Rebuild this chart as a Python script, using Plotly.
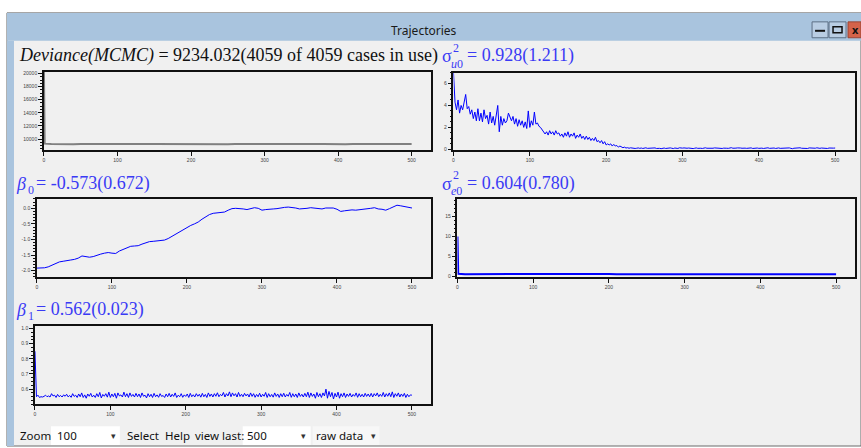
import plotly.graph_objects as go

W, H = 861, 448

# ---------------- data ----------------
dev_iter = [0, 1] + list(range(10, 501, 10))
dev_vals = [20300, 9300,
            9250, 9220, 9240, 9215, 9260, 9230, 9245, 9210, 9235, 9255,
            9225, 9240, 9205, 9250, 9230, 9220, 9262, 9238, 9215, 9245,
            9230, 9250, 9222, 9240, 9212, 9258, 9234, 9226, 9248, 9218,
            9236, 9252, 9228, 9242, 9210, 9246, 9232, 9256, 9224, 9238,
            9216, 9250, 9230, 9244, 9220, 9236, 9254, 9228, 9240, 9234]

su0_iter = list(range(0, 501, 2))
su0_vals = [7.0, 4.3, 3.6, 4.5, 3.3, 4.0, 3.6, 4.4, 5.0, 3.7,
            3.9, 3.2, 3.6, 2.8, 3.4, 2.6, 3.7, 2.6, 3.3, 2.5,
            3.6, 2.8, 3.1, 2.3, 3.4, 2.4, 3.0, 2.2, 3.2, 4.0,
            1.6, 3.0, 2.2, 2.8, 2.4, 2.6, 3.3, 2.9, 2.6, 3.0,
            2.3, 2.8, 2.1, 2.7, 2.2, 2.6, 2.0, 2.5, 1.9, 3.5,
            2.0, 2.6, 2.2, 3.4, 2.3, 2.4, 2.1, 2.0, 1.8, 1.7,
            1.4, 1.6, 1.3, 1.7, 1.4, 1.6, 1.3, 1.7, 1.4, 1.5,
            1.2, 1.4, 1.1, 1.5, 1.2, 1.6, 1.1, 1.4, 1.2, 1.5,
            1.0, 1.3, 1.1, 1.4, 1.0, 1.2, 0.9, 1.2, 0.9, 1.1,
            0.8, 1.0, 0.8, 1.1, 0.7, 0.8, 0.6, 0.8, 0.5, 0.7,
            0.4, 0.5, 0.4, 0.5, 0.3, 0.45, 0.3, 0.35, 0.2, 0.3,
            0.2, 0.15, 0.2, 0.12, 0.15, 0.1, 0.14, 0.1, 0.12, 0.08,
            0.10, 0.13, 0.09, 0.12, 0.08, 0.11, 0.14, 0.09, 0.10, 0.12,
            0.07, 0.10, 0.13, 0.08, 0.11, 0.09, 0.06, 0.10, 0.12, 0.08,
            0.11, 0.09, 0.13, 0.10, 0.07, 0.12, 0.10, 0.08, 0.14, 0.09,
            0.11, 0.13, 0.08, 0.10, 0.12, 0.09, 0.11, 0.07, 0.10, 0.13,
            0.09, 0.12, 0.10, 0.08, 0.11, 0.14, 0.10, 0.09, 0.12, 0.08,
            0.10, 0.13, 0.11, 0.09, 0.12, 0.10, 0.08, 0.11, 0.13, 0.10,
            0.09, 0.12, 0.15, 0.10, 0.08, 0.11, 0.13, 0.09, 0.12, 0.10,
            0.14, 0.11, 0.09, 0.12, 0.10, 0.13, 0.08, 0.11, 0.10, 0.12,
            0.09, 0.13, 0.11, 0.08, 0.12, 0.10, 0.14, 0.09, 0.11, 0.10,
            0.12, 0.08, 0.11, 0.13, 0.09, 0.10, 0.12, 0.07, 0.11, 0.10,
            0.13, 0.09, 0.06, 0.10, 0.12, 0.08, 0.11, 0.14, 0.10, 0.09,
            0.12, 0.10, 0.08, 0.13, 0.11, 0.09, 0.12, 0.10, 0.14, 0.11,
            0.09, 0.12, 0.10, 0.13, 0.11, 0.08, 0.12, 0.10, 0.13, 0.11,
            0.12]

b0_iter = list(range(0, 501, 5))
b0_vals = [-1.92, -1.92, -1.91, -1.88, -1.83, -1.78, -1.72, -1.70, -1.67, -1.66,
           -1.64, -1.60, -1.53, -1.54, -1.57, -1.55, -1.50, -1.47, -1.44, -1.42,
           -1.44, -1.45, -1.37, -1.32, -1.25, -1.22, -1.21, -1.20, -1.15, -1.10,
           -1.07, -1.06, -1.05, -1.04, -1.02, -0.97, -0.90, -0.82, -0.76, -0.68,
           -0.60, -0.55, -0.50, -0.44, -0.35, -0.27, -0.20, -0.16, -0.15, -0.13,
           -0.12, -0.06, -0.01, 0.00, 0.00, -0.02, -0.04, -0.01, 0.02, 0.00,
           -0.06, -0.04, -0.02, -0.02, -0.01, 0.02, 0.03, 0.04, 0.03, 0.01,
           -0.02, -0.02, 0.00, 0.02, 0.01, -0.01, -0.02, 0.01, 0.02, 0.01,
           -0.03, -0.10, -0.08, -0.06, -0.05, -0.06, -0.05, -0.04, -0.03, 0.00,
           0.02, -0.02, -0.03, -0.06, -0.01, 0.05, 0.10, 0.08, 0.06, 0.04,
           0.01]

se0_iter = [0, 1] + list(range(10, 501, 10))
se0_vals = [10.0, 0.7,
            0.60, 0.61, 0.59, 0.60, 0.62, 0.60, 0.59, 0.61, 0.60, 0.60,
            0.61, 0.59, 0.60, 0.62, 0.60, 0.61, 0.59, 0.60, 0.60, 0.61,
            0.60, 0.59, 0.61, 0.60, 0.62, 0.60, 0.59, 0.60, 0.61, 0.60,
            0.60, 0.61, 0.59, 0.60, 0.61, 0.60, 0.62, 0.60, 0.59, 0.60,
            0.61, 0.60, 0.60, 0.59, 0.61, 0.60, 0.60, 0.61, 0.60, 0.60]

b1_iter = list(range(0, 501, 2))
b1_vals = [0.85, 0.55, 0.56, 0.545, 0.55, 0.548, 0.552, 0.56, 0.55, 0.555,
           0.548, 0.57, 0.555, 0.56, 0.545, 0.565, 0.55, 0.558, 0.548, 0.562,
           0.553, 0.566, 0.549, 0.558, 0.546, 0.57, 0.552, 0.56, 0.545, 0.568,
           0.55, 0.575, 0.545, 0.562, 0.54, 0.568, 0.553, 0.572, 0.548, 0.56,
           0.545, 0.57, 0.55, 0.578, 0.542, 0.565, 0.553, 0.57, 0.547, 0.58,
           0.545, 0.568, 0.55, 0.572, 0.54, 0.575, 0.555, 0.562, 0.548, 0.58,
           0.55, 0.57, 0.545, 0.575, 0.552, 0.565, 0.548, 0.572, 0.55, 0.568,
           0.545, 0.575, 0.553, 0.56, 0.542, 0.57, 0.55, 0.566, 0.545, 0.572,
           0.55, 0.562, 0.546, 0.57, 0.552, 0.558, 0.545, 0.568, 0.55, 0.572,
           0.548, 0.566, 0.552, 0.575, 0.545, 0.56, 0.55, 0.57, 0.546, 0.562,
           0.552, 0.568, 0.545, 0.572, 0.55, 0.563, 0.548, 0.57, 0.553, 0.566,
           0.547, 0.572, 0.55, 0.565, 0.545, 0.575, 0.552, 0.568, 0.548, 0.57,
           0.553, 0.576, 0.55, 0.565, 0.556, 0.578, 0.548, 0.57, 0.555, 0.582,
           0.55, 0.575, 0.556, 0.57, 0.548, 0.578, 0.552, 0.566, 0.55, 0.572,
           0.555, 0.568, 0.548, 0.575, 0.552, 0.57, 0.546, 0.565, 0.55, 0.573,
           0.548, 0.566, 0.553, 0.578, 0.545, 0.57, 0.55, 0.565, 0.547, 0.575,
           0.552, 0.568, 0.545, 0.57, 0.55, 0.573, 0.548, 0.565, 0.553, 0.578,
           0.546, 0.57, 0.55, 0.568, 0.545, 0.575, 0.552, 0.566, 0.548, 0.572,
           0.55, 0.58, 0.545, 0.575, 0.552, 0.568, 0.54, 0.578, 0.55, 0.57,
           0.545, 0.575, 0.555, 0.60, 0.54, 0.585, 0.55, 0.578, 0.535, 0.572,
           0.548, 0.58, 0.54, 0.57, 0.55, 0.575, 0.545, 0.568, 0.552, 0.572,
           0.548, 0.565, 0.553, 0.575, 0.546, 0.57, 0.55, 0.566, 0.548, 0.572,
           0.552, 0.568, 0.55, 0.572, 0.548, 0.57, 0.555, 0.575, 0.55, 0.566,
           0.552, 0.578, 0.548, 0.57, 0.553, 0.575, 0.55, 0.582, 0.545, 0.57,
           0.553, 0.575, 0.548, 0.568, 0.552, 0.572, 0.545, 0.566, 0.55, 0.562,
           0.56]

x_ticks = [0, 100, 200, 300, 400, 500]
dev_yticks = [10000, 12000, 14000, 16000, 18000, 20000]
su0_yticks = [0, 2, 4, 6]
b0_yticks = [-2.0, -1.5, -1.0, -0.5, 0.0]
se0_yticks = [0, 5, 10, 15]
b1_yticks = [0.6, 0.7, 0.8, 0.9, 1.0]

window_title = "Trajectories"
dev_title = "<i>Deviance(MCMC)</i> = 9234.032(4059 of 4059 cases in use)"
su0_text = "= 0.928(1.211)"
b0_text = "= -0.573(0.672)"
se0_text = "= 0.604(0.780)"
b1_text = "= 0.562(0.023)"

# ---------------- helpers ----------------
def px(x):
    return x / W

def py(y):
    return 1 - y / H

BLUE_TXT = "#3a3af5"
SERIF = "Liberation Serif"

fig = go.Figure()

# panels: (series x, series y, colour, width, box[x0,x1,y0,y1], xrange, yrange, yticks, fmt, minor)
panels = [
    (dev_iter, dev_vals, "#808080", 2, (43, 431, 71, 150), [0, 527], [8330, 20300], dev_yticks, "d", 500),
    (su0_iter, su0_vals, "#0000ff", 1, (453, 855, 72, 150), [0, 526], [-0.06, 7.0], su0_yticks, "d", 0.5),
    (b0_iter, b0_vals, "#0000ff", 1, (36, 431, 199, 278), [0, 526], [-2.21, 0.31], b0_yticks, ".1f", 0.1),
    (se0_iter, se0_vals, "#0000ff", 2, (457, 855, 199, 278), [0, 525], [-0.15, 19.4], se0_yticks, "d", 1),
    (b1_iter, b1_vals, "#0000ff", 1, (34, 431, 327, 406), [0, 526], [0.50, 1.018], b1_yticks, ".1f", 0.025),
]

layout_axes = {}
for i, (xs, ys, col, lw, box, xr, yr, yt, fmt, mdt) in enumerate(panels, start=1):
    xa = "x" if i == 1 else f"x{i}"
    ya = "y" if i == 1 else f"y{i}"
    fig.add_trace(go.Scatter(x=xs, y=ys, mode="lines", xaxis=xa, yaxis=ya,
                             line=dict(color=col, width=lw), showlegend=False,
                             hoverinfo="skip"))
    x0, x1, y0, y1 = box
    ticktext = [(f"{v:.1f}" if fmt == ".1f" else f"{int(v)}") for v in yt]
    layout_axes["xaxis" if i == 1 else f"xaxis{i}"] = dict(
        domain=[px(x0), px(x1)], anchor=ya, range=xr, tickvals=x_ticks,
        showgrid=False, zeroline=False, showline=True, mirror=True,
        linecolor="#111111", linewidth=1.5, ticks="outside", ticklen=4,
        tickcolor="#111111", tickwidth=1,
        tickfont=dict(family="Liberation Sans", size=5, color="#444444"),
        fixedrange=True)
    layout_axes["yaxis" if i == 1 else f"yaxis{i}"] = dict(
        domain=[py(y1), py(y0)], anchor=xa, range=yr, tickvals=yt, ticktext=ticktext,
        showgrid=False, zeroline=False, showline=True, mirror=True,
        linecolor="#111111", linewidth=1.5, ticks="outside", ticklen=4,
        tickcolor="#111111", tickwidth=1,
        minor=dict(dtick=mdt, ticklen=2, tickcolor="#111111", tickwidth=1, showgrid=False),
        tickfont=dict(family="Liberation Sans", size=5, color="#444444"),
        fixedrange=True)

# ---------------- window chrome ----------------
shapes = []
def rect(x0, y0, x1, y1, fill, line=None, lw=0):
    shapes.append(dict(type="rect", xref="paper", yref="paper",
                       x0=px(x0), x1=px(x1), y0=py(y1), y1=py(y0),
                       fillcolor=fill, layer="below",
                       line=dict(color=line or fill, width=lw)))

rect(0, 0, 861, 448, "#ffffff")
rect(6, 12, 861, 448, "#f0f0f0", "#6a6a6a", 1)
rect(6, 12, 861, 40, "#a9c4de")
rect(6, 40, 13, 448, "#a9c4de")
# title-bar buttons
rect(812, 21, 828, 37, "#b9cde3", "#5d6f85", 1)
rect(829, 21, 846, 37, "#b9cde3", "#5d6f85", 1)
rect(848, 21, 861, 37, "#d4634a", "#9a4535", 1)
rect(815, 29, 825, 31, "#111111")
rect(833, 26, 842, 32, "rgba(0,0,0,0)", "#111111", 1.5)
# toolbar boxes
rect(50, 428, 119, 447, "#ffffff")
rect(242, 428, 310, 447, "#ffffff")
rect(312, 428, 379, 447, "#f7f7f7")

annotations = []
def text(x, y, s, size, color="#111111", family=SERIF, xanchor="left"):
    annotations.append(dict(x=px(x), y=py(y), xref="paper", yref="paper", text=s,
                            showarrow=False, xanchor=xanchor, yanchor="middle",
                            font=dict(family=family, size=size, color=color)))

UI = "Noto Sans"
text(423, 30, window_title, 12, "#1a1a1a", UI, "center")
text(855, 29, "<b>x</b>", 11, "#111111", UI, "center")

# panel titles
text(16, 55, dev_title, 18, "#111111")
text(440, 55, "σ", 18, BLUE_TXT)
text(451, 47, "2", 12, BLUE_TXT)
text(449, 63, "<i>u</i>0", 12, BLUE_TXT)
text(465, 55, su0_text, 18, BLUE_TXT)

text(13, 184, "<i>β</i>", 18, BLUE_TXT)
text(25, 190, "0", 12, BLUE_TXT)
text(33, 184, b0_text, 18, BLUE_TXT)

text(440, 184, "σ", 18, BLUE_TXT)
text(451, 175, "2", 12, BLUE_TXT)
text(449, 191, "<i>e</i>0", 12, BLUE_TXT)
text(465, 184, se0_text, 18, BLUE_TXT)

text(13, 311, "<i>β</i>", 18, BLUE_TXT)
text(25, 317, "1", 12, BLUE_TXT)
text(33, 311, b1_text, 18, BLUE_TXT)

# toolbar
text(17, 437, "Zoom", 11.5, "#111111", UI)
text(54, 437, "100", 11.5, "#111111", UI)
text(113, 437, "▾", 9, "#333333", UI, "center")
text(124, 437, "Select", 11.5, "#111111", UI)
text(162, 437, "Help", 11.5, "#111111", UI)
text(192, 437, "view last:", 11.5, "#111111", UI)
text(244, 437, "500", 11.5, "#111111", UI)
text(303, 437, "▾", 9, "#333333", UI, "center")
text(313, 437, "raw data", 11.5, "#111111", UI)
text(373, 437, "▾", 9, "#333333", UI, "center")

fig.update_layout(
    width=W, height=H, autosize=False,
    margin=dict(l=0, r=0, t=0, b=0, pad=0),
    paper_bgcolor="#ffffff", plot_bgcolor="rgba(0,0,0,0)",
    shapes=shapes, annotations=annotations, showlegend=False,
    **layout_axes,
)

fig.write_html("out.html", config={"displayModeBar": False},
               post_script="document.body.style.margin='0';document.body.style.padding='0';"
                           "document.body.style.overflow='hidden';")
